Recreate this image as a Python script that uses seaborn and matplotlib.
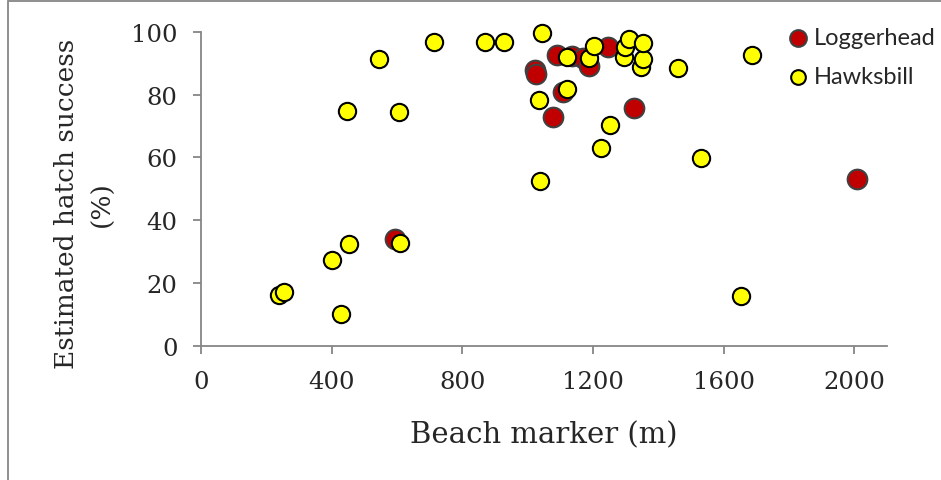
"""
Scatter of estimated hatch success against beach marker position
for loggerhead and hawksbill nests.
"""
import matplotlib.pyplot as plt
import matplotlib.patches as mpatches
import pandas as pd
import seaborn as sns

# loggerhead nests (beach marker in m, hatch success in %)
logger_x = [594, 1023, 1025, 1077, 1091, 1107, 1136, 1170, 1189, 1247,
            1327, 2008]
logger_y = [34.0, 87.8, 86.4, 73.0, 92.7, 80.7, 92.4, 91.6, 89.2, 95.2,
            75.8, 53.0]

# hawksbill nests
hawks_x = [240, 253, 400, 428, 446, 454, 546, 605, 608, 714, 870, 927,
           1034, 1037, 1045, 1119, 1120, 1188, 1203, 1225, 1252, 1295,
           1298, 1309, 1346, 1352, 1354, 1459, 1530, 1653, 1687]
hawks_y = [16.2, 17.1, 27.3, 10.3, 74.7, 32.5, 91.3, 74.4, 32.8, 96.7,
           96.6, 96.8, 78.4, 52.4, 99.6, 91.8, 81.8, 91.6, 95.5, 63.0,
           70.2, 92.0, 95.0, 97.7, 88.9, 91.3, 96.4, 88.3, 59.7, 15.8,
           92.6]

x_ticks = [0, 400, 800, 1200, 1600, 2000]
y_ticks = [0, 20, 40, 60, 80, 100]


def main():
    sns.set_style("white")
    plt.rcParams['font.family'] = ['DejaVu Serif']

    df = pd.concat([
        pd.DataFrame({'x': logger_x, 'y': logger_y, 'species': 'Loggerhead'}),
        pd.DataFrame({'x': hawks_x, 'y': hawks_y, 'species': 'Hawksbill'}),
    ])

    fig = plt.figure(figsize=(9.41, 4.81), dpi=100)
    ax = fig.add_axes([0.2136, 0.2786, 0.729, 0.6534])

    sns.scatterplot(data=df[df.species == 'Loggerhead'], x='x', y='y',
                    s=200, color='#c00000', edgecolor='#404040',
                    linewidth=1.5, ax=ax, label='Loggerhead', zorder=3,
                    clip_on=False)
    sns.scatterplot(data=df[df.species == 'Hawksbill'], x='x', y='y',
                    s=155, color='#ffff00', edgecolor='black',
                    linewidth=1.5, ax=ax, label='Hawksbill', zorder=4,
                    clip_on=False)

    ax.set_xlim(0, 2100)
    ax.set_ylim(0, 100)
    ax.set_xticks(x_ticks)
    ax.set_yticks(y_ticks)
    ax.spines[['top', 'right']].set_visible(False)
    for side in ['left', 'bottom']:
        ax.spines[side].set_color('#868686')
        ax.spines[side].set_linewidth(1.3)
    ax.tick_params(axis='both', direction='out', length=6, width=1.3,
                   color='#868686', labelsize=17.5, left=True, bottom=True)
    ax.tick_params(axis='x', pad=11)
    ax.tick_params(axis='y', pad=11)
    ax.set_xlabel('Beach marker (m)', fontsize=21)
    ax.xaxis.set_label_coords(0.5, -0.238)
    ax.set_ylabel('Estimated hatch success\n(%)', fontsize=19,
                  linespacing=1.55)
    ax.yaxis.set_label_coords(-0.125, 0.454)

    ax.legend(loc='center left', bbox_to_anchor=(790 / 941, 1 - 58 / 481),
              bbox_transform=fig.transFigure, frameon=False,
              markerscale=0.85, handlelength=0.7, handletextpad=0.3,
              labelspacing=0.75, borderaxespad=0, borderpad=0,
              prop={'family': 'Lato', 'size': 17})

    # outer chart border (cropped at right and bottom as in the original)
    fig.patches.append(mpatches.Rectangle(
        (8 / 941, -0.1), 1.2, 1.1 - 2 / 481, transform=fig.transFigure,
        fill=False, edgecolor='#868686', linewidth=1.3))

    fig.savefig('out.png', dpi=100)


if __name__ == '__main__':
    main()
